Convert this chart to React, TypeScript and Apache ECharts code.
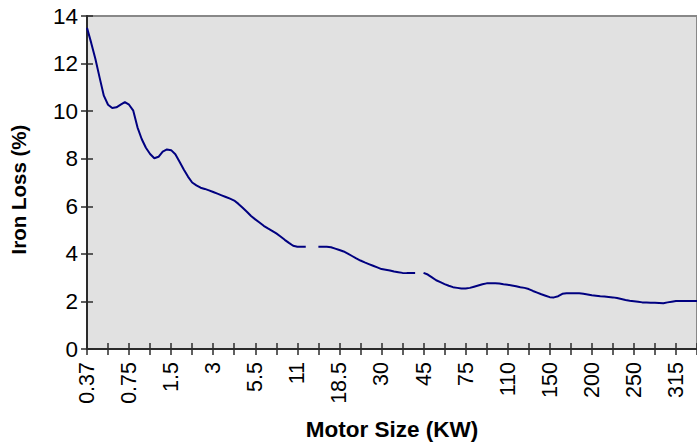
import React, { useEffect, useRef } from "react";
import * as echarts from "echarts";

// Motor sizes (kW) at each tick of the category axis
const motorSizes = [
  "0.37", "0.55", "0.75", "1.1", "1.5", "2.2", "3", "4", "5.5", "7.5",
  "11", "15", "18.5", "22", "30", "37", "45", "55", "75", "90",
  "110", "132", "150", "160", "200", "220", "250", "280", "315", "355",
];
// number of plotted points per tick interval
const subSteps = 5;

// Iron loss (%) (null = gap in the line)
const ironLoss: (number | null)[] = [
  13.5, 12.87, 12.19, 11.41, 10.65,
  10.27, 10.13, 10.16, 10.27, 10.38,
  10.27, 10.02, 9.32, 8.83, 8.46,
  8.2, 8.02, 8.08, 8.3, 8.39,
  8.36, 8.19, 7.87, 7.55, 7.25,
  7.0, 6.88, 6.78, 6.73, 6.67,
  6.6, 6.53, 6.46, 6.39, 6.32,
  6.24, 6.1, 5.94, 5.77, 5.59,
  5.45, 5.32, 5.18, 5.07, 4.97,
  4.86, 4.73, 4.59, 4.46, 4.34,
  4.3, 4.3, 4.3, null, null,
  4.3, 4.3, 4.3, 4.28, 4.22,
  4.16, 4.1, 4.01, 3.91, 3.81,
  3.72, 3.64, 3.57, 3.5, 3.43,
  3.36, 3.33, 3.3, 3.26, 3.23,
  3.2, 3.19, 3.19, 3.19, null,
  3.2, 3.13, 3.01, 2.89, 2.81,
  2.73, 2.66, 2.6, 2.57, 2.54,
  2.54, 2.57, 2.62, 2.67, 2.72,
  2.76, 2.76, 2.76, 2.75, 2.72,
  2.7, 2.67, 2.64, 2.6, 2.57,
  2.52, 2.44, 2.37, 2.3, 2.24,
  2.18, 2.17, 2.22, 2.32, 2.34,
  2.34, 2.34, 2.34, 2.32, 2.29,
  2.26, 2.24, 2.22, 2.21, 2.19,
  2.17, 2.14, 2.1, 2.06, 2.03,
  2.01, 1.99, 1.96, 1.95, 1.94,
  1.94, 1.93, 1.92, 1.96, 1.99,
  2.02, 2.02, 2.02, 2.02, 2.02, 2.02,
];

const yMin = 0;
const yMax = 14;
const yStep = 2;

export default function App() {
  const ref = useRef<HTMLDivElement>(null);

  useEffect(() => {
    if (!ref.current) return;
    const chart = echarts.init(ref.current, undefined, { renderer: "svg" });

    const cats: string[] = ironLoss.map((_, i) => {
      const main = motorSizes[Math.floor(i / subSteps)];
      const sub = i % subSteps;
      return sub === 0 ? main : main + "~" + sub;
    });

    const font = "Liberation Sans, Arial, sans-serif";
    const axisColor = "#2b2b2b";

    chart.setOption({
      animation: false,
      backgroundColor: "#ffffff",
      grid: {
        left: 86,
        top: 16,
        bottom: 97,
        right: -2.4,
        show: true,
        backgroundColor: "#e1e1e1",
        borderColor: "#888888",
        borderWidth: 2,
      },
      xAxis: [
        {
          type: "category",
          data: cats,
          boundaryGap: false,
          position: "bottom",
          name: "Motor Size (KW)",
          nameLocation: "middle",
          nameGap: 69,
          nameTextStyle: {
            fontFamily: font,
            fontWeight: "bold",
            fontSize: 22.5,
            color: "#000",
          },
          axisLine: { show: true, lineStyle: { color: axisColor, width: 2 } },
          axisTick: {
            show: true,
            inside: false,
            length: 6,
            interval: (idx: number) => idx % subSteps === 0,
            lineStyle: { color: axisColor, width: 1.5 },
          },
          axisLabel: {
            show: true,
            rotate: 90,
            margin: 13,
            interval: (idx: number) => idx % (subSteps * 2) === 0,
            formatter: (v: string) => v.split("~")[0],
            fontFamily: font,
            fontSize: 21.5,
            color: "#000",
          },
          splitLine: { show: false },
        },
        {
          type: "category",
          data: cats,
          boundaryGap: false,
          position: "bottom",
          axisLine: { show: false },
          axisTick: {
            show: true,
            inside: true,
            length: 6,
            interval: (idx: number) => idx % subSteps === 0,
            lineStyle: { color: axisColor, width: 1.5 },
          },
          axisLabel: { show: false },
          splitLine: { show: false },
        },
      ],
      yAxis: [
        {
          type: "value",
          min: yMin,
          max: yMax,
          interval: yStep,
          position: "left",
          name: "Iron Loss (%)",
          nameLocation: "middle",
          nameGap: 58,
          nameTextStyle: {
            fontFamily: font,
            fontWeight: "bold",
            fontSize: 20.5,
            color: "#000",
            padding: [0, 14, 0, 0],
          },
          axisLine: { show: true, lineStyle: { color: axisColor, width: 2 } },
          axisTick: {
            show: true,
            inside: false,
            length: 6,
            lineStyle: { color: axisColor, width: 1.5 },
          },
          axisLabel: {
            margin: 9,
            fontFamily: font,
            fontSize: 22.5,
            color: "#000",
          },
          splitLine: { show: false },
        },
        {
          type: "value",
          min: yMin,
          max: yMax,
          interval: yStep,
          position: "left",
          axisLine: { show: false },
          axisTick: {
            show: true,
            inside: true,
            length: 6,
            lineStyle: { color: axisColor, width: 1.5 },
          },
          axisLabel: { show: false },
          splitLine: { show: false },
        },
      ],
      series: [
        {
          type: "line",
          data: ironLoss,
          xAxisIndex: 0,
          yAxisIndex: 0,
          showSymbol: false,
          symbol: "none",
          connectNulls: false,
          lineStyle: { color: "#000080", width: 2 },
        },
      ],
    });

    return () => chart.dispose();
  }, []);

  return (
    <div
      ref={ref}
      style={{ position: "fixed", left: 0, top: 0, width: 697, height: 446 }}
    />
  );
}
